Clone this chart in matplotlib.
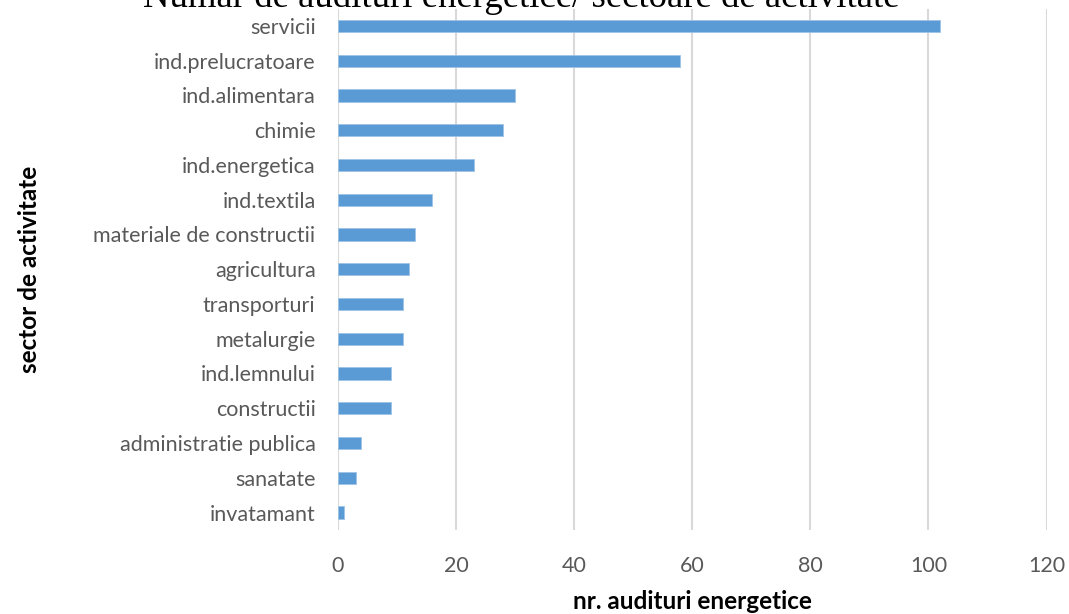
import matplotlib
matplotlib.use("Agg")
import matplotlib.pyplot as plt
import numpy as np

sectors = ["servicii", "ind.prelucratoare", "ind.alimentara", "chimie", "ind.energetica",
           "ind.textila", "materiale de constructii", "agricultura", "transporturi",
           "metalurgie", "ind.lemnului", "constructii", "administratie publica",
           "sanatate", "invatamant"]
audits = [102, 58, 30, 28, 23, 16, 13, 12, 11, 11, 9, 9, 4, 3, 1]
xticks = [0, 20, 40, 60, 80, 100, 120]

plt.rcParams['font.family'] = ['Lato', 'DejaVu Sans']

fig = plt.figure(figsize=(10.69, 6.14), dpi=100)
ax = fig.add_axes([0.316, 0.137, 0.663, 0.849])

Y = np.arange(len(sectors))[::-1]
ax.barh(Y, audits, height=0.35, color='#5B9BD5', edgecolor='#9DC3E6', linewidth=0.6, zorder=3)

ax.set_xlim(0, 120)
ax.set_ylim(-0.5, len(sectors) - 0.5)
ax.set_xticks(xticks)
ax.set_yticks(Y, labels=sectors)
ax.tick_params(axis='both', length=0, labelsize=15.5, labelcolor='#595959')
ax.tick_params(axis='x', pad=19)
ax.tick_params(axis='y', pad=16)
ax.grid(axis='x', color='#D9D9D9', linewidth=1.5, zorder=0)
for s in ax.spines.values():
    s.set_visible(False)

ax.set_xlabel("nr. audituri energetice", fontsize=17.5, fontweight='bold', labelpad=10)
fig.text(0.028, 0.137 + 0.849 / 2, "sector de activitate", rotation=90, fontsize=17.5,
         fontweight='bold', ha='center', va='center')
fig.text(0.488, 0.988, "Numar de audituri energetice/ sectoare de activitate",
         fontsize=26.5, family='Liberation Serif', ha='center', va='baseline')

fig.savefig("out.png", dpi=100)
